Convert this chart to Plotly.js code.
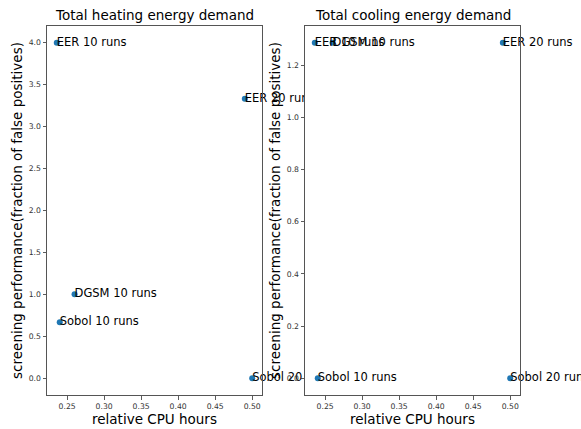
<!DOCTYPE html>
<html>
<head>
<meta charset="utf-8">
<script src="https://cdn.plot.ly/plotly-3.0.1.min.js"></script>
<style>html,body{margin:0;padding:0;background:#fff;}#chart{width:581px;height:429px;}</style>
</head>
<body>
<div id="chart"></div>
<script>
// ---- data ----
var labels = ['EER 10 runs', 'EER 20 runs', 'DGSM 10 runs', 'Sobol 10 runs', 'Sobol 20 runs'];
var cpuHours = [0.236, 0.49, 0.26, 0.24, 0.50];
var heatingPerf = [4.0, 3.333, 1.0, 0.667, 0.0];
var coolingPerf = [1.286, 1.286, 1.286, 0.0, 0.0];
var panelTitles = ['Total heating energy demand', 'Total cooling energy demand'];
var xTitle = 'relative CPU hours';
var yTitle = 'screening performance(fraction of false positives)';

var FONT = 'DejaVu Sans, sans-serif';
var BLUE = '#1f77b4';
var xRange = [0.2228, 0.5132];
var y1Range = [-0.2, 4.2];
var y2Range = [-0.0643, 1.35];

function markers(y, xa, ya) {
  return {
    x: cpuHours, y: y, xaxis: xa, yaxis: ya,
    type: 'scatter', mode: 'markers',
    marker: {color: BLUE, size: 6},
    cliponaxis: false, hoverinfo: 'none', showlegend: false
  };
}
function texts(y, xa, ya) {
  return {
    x: cpuHours, y: y, text: labels, xaxis: xa, yaxis: ya,
    type: 'scatter', mode: 'text',
    textposition: 'middle right',
    textfont: {family: FONT, size: 11.5, color: '#000'},
    cliponaxis: false, hoverinfo: 'none', showlegend: false
  };
}

var data = [
  markers(heatingPerf, 'x', 'y'), texts(heatingPerf, 'x', 'y'),
  markers(coolingPerf, 'x2', 'y2'), texts(coolingPerf, 'x2', 'y2')
];

function xax(domain, anchor) {
  return {
    domain: domain, anchor: anchor, range: xRange,
    tick0: 0, dtick: 0.05, tickformat: '.2f',
    ticks: 'outside', ticklen: 3.5, tickwidth: 0.8, tickcolor: '#333',
    tickfont: {family: FONT, size: 7.7, color: '#333'},
    showline: true, mirror: true, linecolor: '#555', linewidth: 1,
    showgrid: false, zeroline: false,
    title: {text: xTitle, font: {family: FONT, size: 13.5, color: '#000'}, standoff: 1}
  };
}
function yax(range, dtick, anchor) {
  return {
    anchor: anchor, range: range, tick0: 0, dtick: dtick, tickformat: '.1f',
    ticks: 'outside', ticklen: 3.5, tickwidth: 0.8, tickcolor: '#333',
    tickfont: {family: FONT, size: 7.7, color: '#333'},
    showline: true, mirror: true, linecolor: '#555', linewidth: 1,
    showgrid: false, zeroline: false,
    title: {text: yTitle, font: {family: FONT, size: 13.5, color: '#000'}, standoff: 3}
  };
}

var layout = {
  width: 581, height: 429,
  margin: {l: 47, r: 61, t: 26, b: 34},
  paper_bgcolor: '#fff', plot_bgcolor: '#fff',
  font: {family: FONT},
  xaxis: xax([0, 0.4545], 'y'),
  yaxis: yax(y1Range, 0.5, 'x'),
  xaxis2: xax([0.5455, 1], 'y2'),
  yaxis2: yax(y2Range, 0.2, 'x2'),
  // white axes background of the right panel, drawn over the left panel's overflowing labels
  shapes: [{type: 'rect', xref: 'x2', yref: 'y2', x0: xRange[0], x1: xRange[1], y0: y2Range[0], y1: y2Range[1],
            fillcolor: '#fff', line: {width: 0}, layer: 'below'}],
  annotations: panelTitles.map(function (t, i) {
    return {text: t, xref: i ? 'x2 domain' : 'x domain', yref: i ? 'y2 domain' : 'y domain',
            x: 0.5, y: 1, xanchor: 'center', yanchor: 'bottom', yshift: 1, showarrow: false,
            font: {family: FONT, size: 13.5, color: '#000'}};
  })
};

Plotly.newPlot('chart', data, layout, {staticPlot: true, displayModeBar: false});
</script>
</body>
</html>
